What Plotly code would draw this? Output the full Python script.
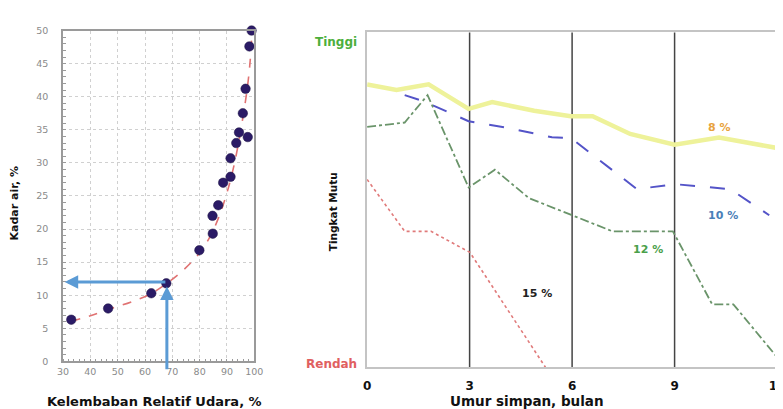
import plotly.graph_objects as go

# ---------------- Left chart data (sorption isotherm) ----------------
rh_points = [33.0, 46.5, 62.3, 67.8, 79.9, 84.8, 84.7, 86.8, 88.6, 91.3, 91.3, 93.4, 94.4, 95.8, 97.6, 96.8, 98.2, 99.0]
ka_points = [6.3, 8.0, 10.3, 11.8, 16.8, 19.3, 22.0, 23.6, 27.0, 27.9, 30.7, 33.0, 34.6, 37.5, 33.9, 41.2, 47.6, 50.0]
fit_rh = [33, 40, 47, 55, 62, 68, 74, 80, 84, 87, 90, 92, 94, 96, 97.5, 98.5, 99.2]
fit_ka = [6.1, 6.9, 7.9, 9.0, 10.2, 11.8, 13.8, 16.4, 19.0, 21.8, 25.5, 28.6, 32.5, 37.3, 41.5, 45.5, 50.0]
arrow_rh = 68
arrow_ka = 12
left_xticks = [30, 40, 50, 60, 70, 80, 90, 100]
left_yticks = [0, 5, 10, 15, 20, 25, 30, 35, 40, 45, 50]

# ---------------- Right chart data (quality vs storage) ----------------
months_ticks = [0, 3, 6, 9, 12]
month_lines = [3, 6, 9]
q_ticks = [0.1, 9.72]
q_labels = ["Rendah", "Tinggi"]

x8 = [0, 0.86, 1.8, 2.97, 3.66, 4.89, 5.96, 6.6, 7.7, 9.0, 10.3, 12.0]
y8 = [8.45, 8.28, 8.45, 7.72, 7.92, 7.66, 7.50, 7.50, 6.97, 6.65, 6.86, 6.55]

x10 = [1.1, 1.67, 2.97, 4.07, 5.41, 5.96, 7.9, 9.0, 10.63, 11.58, 11.77]
y10 = [8.13, 7.94, 7.35, 7.16, 6.87, 6.85, 5.32, 5.47, 5.32, 4.69, 4.54]

x12 = [0, 1.1, 1.77, 2.97, 3.74, 4.74, 6.0, 7.18, 8.95, 10.1, 10.72, 12.0]
y12 = [7.18, 7.31, 8.13, 5.37, 5.90, 5.05, 4.54, 4.06, 4.06, 1.88, 1.88, 0.30]

x15 = [0, 1.1, 1.87, 3.01, 5.22]
y15 = [5.61, 4.06, 4.06, 3.43, 0.0]

series_labels = ["8 %", "10 %", "12 %", "15 %"]
label_x = [10.32, 10.43, 8.21, 4.98]
label_y = [7.16, 4.52, 3.51, 2.19]
label_colors = ["#e8a23c", "#4a7fb8", "#4aa04a", "#222222"]

FONT = "DejaVu Sans"

fig = go.Figure()

# Left chart traces
fig.add_trace(go.Scatter(x=fit_rh, y=fit_ka, mode="lines", line=dict(color="#e07272", width=1.6, dash="dash", shape="spline"),
                         xaxis="x", yaxis="y", showlegend=False, hoverinfo="skip"))
fig.add_trace(go.Scatter(x=rh_points, y=ka_points, mode="markers",
                         marker=dict(color="#2b1b66", size=9.5, line=dict(color="#1a1040", width=0.5)),
                         xaxis="x", yaxis="y", showlegend=False, cliponaxis=False))

# Right chart traces
fig.add_trace(go.Scatter(x=x8, y=y8, mode="lines", line=dict(color="#eef29a", width=4.5),
                         xaxis="x2", yaxis="y2", showlegend=False))
fig.add_trace(go.Scatter(x=x10, y=y10, mode="lines", line=dict(color="#5454c8", width=2, dash="longdash"),
                         xaxis="x2", yaxis="y2", showlegend=False))
fig.add_trace(go.Scatter(x=x12, y=y12, mode="lines", line=dict(color="#6a946a", width=1.8, dash="dashdot"),
                         xaxis="x2", yaxis="y2", showlegend=False))
fig.add_trace(go.Scatter(x=x15, y=y15, mode="lines", line=dict(color="#e07a7a", width=1.6, dash="dot"),
                         xaxis="x2", yaxis="y2", showlegend=False))

annotations = []
# series labels
for t, lx, ly, c in zip(series_labels, label_x, label_y, label_colors):
    annotations.append(dict(x=lx, y=ly, xref="x2", yref="y2", text="<b>" + t + "</b>", showarrow=False,
                            font=dict(family=FONT, size=11, color=c), xanchor="center", yanchor="middle"))

# blue arrows on left chart
annotations.append(dict(x=30.6, y=arrow_ka, ax=arrow_rh, ay=arrow_ka, xref="x", yref="y", axref="x", ayref="y",
                        showarrow=True, arrowhead=2, arrowsize=0.9, arrowwidth=3, arrowcolor="#5b9bd5", text=""))
annotations.append(dict(x=arrow_rh, y=arrow_ka - 0.7, ax=arrow_rh, ay=-1.4, xref="x", yref="y", axref="x", ayref="y",
                        showarrow=True, arrowhead=2, arrowsize=0.9, arrowwidth=3, arrowcolor="#5b9bd5", text=""))

# axis titles
annotations += [
    dict(x=14 / 783, y=1 - 194 / 409, xref="paper", yref="paper", text="<b>Kadar air, %</b>", textangle=-90,
         showarrow=False, xanchor="center", yanchor="middle", xshift=-13, font=dict(family=FONT, size=11, color="#111")),
    dict(x=151 / 783, y=1 - 398 / 409, xref="paper", yref="paper", text="<b>Kelembaban Relatif Udara, %</b>",
         showarrow=False, xanchor="center", yanchor="middle", xshift=-8, font=dict(family=FONT, size=13, color="#111")),
    dict(x=332 / 783, y=1 - 203 / 409, xref="paper", yref="paper", text="<b>Tingkat Mutu</b>", textangle=-90,
         showarrow=False, xanchor="center", yanchor="middle", xshift=-7, font=dict(family=FONT, size=10.5, color="#111")),
    dict(x=523 / 783, y=1 - 398 / 409, xref="paper", yref="paper", text="<b>Umur simpan, bulan</b>",
         showarrow=False, xanchor="center", yanchor="middle", font=dict(family=FONT, size=13.5, color="#111")),
]
# right y tick labels (colored)
for t, v, c in zip(q_labels, q_ticks, ["#e06060", "#4caf3c"]):
    annotations.append(dict(x=0, y=v, xref="x2", yref="y2", text="<b>" + t + "</b>", showarrow=False,
                            xanchor="right", yanchor="middle", xshift=-8, font=dict(family=FONT, size=12, color=c)))

shapes = []
for m in month_lines:
    shapes.append(dict(type="line", x0=m, x1=m, y0=0, y1=1, xref="x2", yref="y2 domain",
                       line=dict(color="#444", width=1.5), layer="below"))

fig.update_layout(
    width=783, height=409,
    margin=dict(l=0, r=0, t=0, b=0),
    paper_bgcolor="white", plot_bgcolor="white",
    font=dict(family=FONT),
    showlegend=False,
    xaxis=dict(domain=[50 / 783, 245 / 783], range=[30, 100], tickvals=left_xticks,
               showline=True, linecolor="#9a9a9a", linewidth=1.5, mirror=True,
               showgrid=True, gridcolor="#d0d0d0", griddash="dot", gridwidth=1,
               zeroline=False, ticks="", ticklabelstandoff=0,
               minor=dict(dtick=2, ticks="inside", ticklen=3, tickcolor="#9a9a9a", showgrid=False),
               tickfont=dict(size=9.5, color="#8a8a8a")),
    yaxis=dict(domain=[1 - 357 / 409, 1 - 17 / 409], range=[0, 50], tickvals=left_yticks,
               showline=True, linecolor="#9a9a9a", linewidth=1.5, mirror=True,
               showgrid=True, gridcolor="#d0d0d0", griddash="dot", gridwidth=1,
               zeroline=False, ticks="", ticklabelstandoff=11,
               minor=dict(dtick=1, ticks="inside", ticklen=3, tickcolor="#9a9a9a", showgrid=False),
               tickfont=dict(size=9.5, color="#8a8a8a")),
    xaxis2=dict(domain=[360 / 783, 778 / 783], range=[0, 12], tickvals=months_ticks, anchor="y2",
                showline=True, linecolor="#c4c4c4", linewidth=1.5, mirror=True,
                showgrid=False, zeroline=False, ticks="", ticklabelstandoff=7,
                tickfont=dict(size=12, color="#111", family=FONT, weight="bold")),
    yaxis2=dict(domain=[1 - 363 / 409, 1 - 19 / 409], range=[0, 10], anchor="x2",
                showline=True, linecolor="#c4c4c4", linewidth=1.5, mirror=True,
                showgrid=False, zeroline=False, showticklabels=False, ticks=""),
    annotations=annotations,
    shapes=shapes,
)

fig.write_html("out.html")
